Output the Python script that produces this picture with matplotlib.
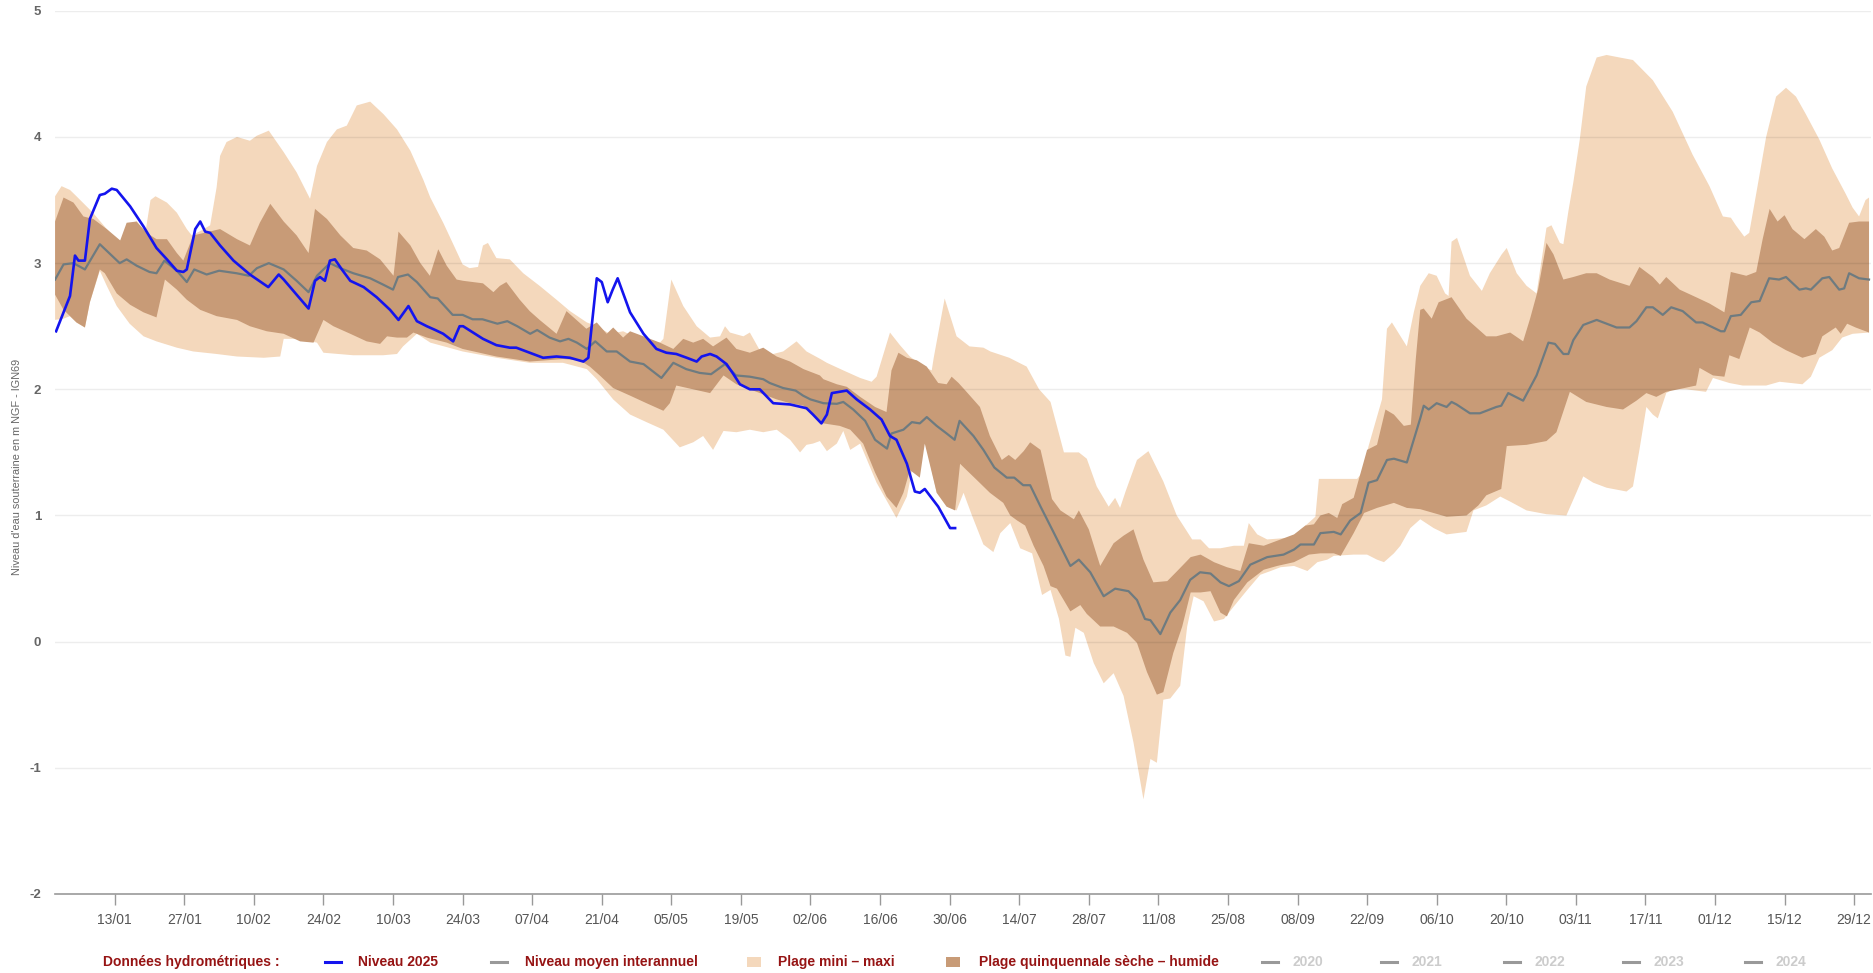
import matplotlib.pyplot as plt
from matplotlib.lines import Line2D
from matplotlib.patches import Rectangle
import numpy as np
import pandas as pd

# day of year (0 = 1 January), levels in m NGF - IGN69

# Plage mini - maxi : upper edge
max_days = [0, 1.3, 3, 4.3, 7.6, 10.4, 13, 14.5, 16.4, 18.2, 19.2, 20.2, 22.5, 24.5, 26.5, 27.5,
            29.5, 31.2, 32.5, 33.2, 34.5, 36.6, 39.2, 40.6, 43, 46, 48.6, 51.3, 52.7, 54.7, 56.7,
            58.7, 60.7, 63.4, 66.1, 68.8, 71.5, 74.1, 75.5, 78.1, 80, 82, 83.4, 85.1, 86.1, 87.1,
            88.8, 91.5, 94.2, 97.5, 100.9, 103.6, 107, 109, 111.6, 114.3, 117, 121.7, 122.4, 124,
            126.4, 129.1, 131.8, 133.8, 134.8, 135.8, 138.5, 139.8, 142.5, 146.5, 149.2, 151.2,
            154, 155.3, 158.6, 162, 164.3, 165.3, 168, 170, 172, 174.7, 176.4, 176.8, 179, 181.4,
            184, 186.8, 188.2, 192, 195.5, 198, 200.3, 203, 206, 207.6, 209.6, 212, 213.3, 214.3,
            215.4, 217.7, 220, 223, 225.7, 228.8, 230.5, 232.2, 234.5, 237.2, 239.2, 240.2, 241.9,
            243.9, 247.2, 249.3, 250.6, 251.9, 253.6, 254.3, 257.3, 262, 263, 264.3, 267, 268, 269,
            272, 273.4, 274.7, 276.4, 278, 279.7, 280.4, 281, 282.1, 284.7, 287.1, 288.7, 291.1,
            292.1, 294.1, 296.1, 298.1, 300.1, 301.1, 302.8, 303.5, 304.5, 305.5, 306.8, 308.1,
            310.2, 312.2, 314.8, 317.5, 321.5, 325.5, 329.5, 332.9, 335.6, 337.2, 338.2, 339.9,
            340.9, 342.3, 344.3, 346.3, 348.3, 350.3, 352.3, 355, 357.6, 360.3, 361.7, 363, 364.3, 365]
max_vals = [3.53, 3.61, 3.58, 3.53, 3.40, 3.27, 3.16, 3.30, 3.33, 3.25, 3.50, 3.53, 3.48, 3.40, 3.27, 3.22,
            3.26, 3.30, 3.60, 3.85, 3.96, 4.00, 3.97, 4.01, 4.05, 3.88, 3.72, 3.51, 3.77, 3.96, 4.06,
            4.09, 4.25, 4.28, 4.18, 4.06, 3.89, 3.66, 3.52, 3.32, 3.16, 2.99, 2.96, 2.97, 3.14, 3.16,
            3.04, 3.03, 2.92, 2.82, 2.71, 2.62, 2.53, 2.50, 2.44, 2.46, 2.41, 2.37, 2.40, 2.87,
            2.66, 2.50, 2.41, 2.42, 2.50, 2.45, 2.42, 2.45, 2.26, 2.30, 2.38, 2.30,
            2.24, 2.21, 2.15, 2.09, 2.06, 2.10, 2.45, 2.35, 2.26, 2.18, 2.15, 2.25, 2.72, 2.42,
            2.34, 2.33, 2.30, 2.25, 2.18, 2.00, 1.90, 1.50, 1.50, 1.45, 1.23, 1.07, 1.14, 1.06,
            1.19, 1.44, 1.51, 1.27, 1.00, 0.81, 0.81, 0.74, 0.74, 0.76, 0.76, 0.94, 0.85,
            0.81, 0.82, 0.82, 0.89, 0.93, 0.99, 1.29, 1.29, 1.29, 1.34, 1.55, 1.92, 2.48, 2.53,
            2.34, 2.61, 2.82, 2.92, 2.90, 2.76, 2.74, 3.17, 3.20, 2.90, 2.78, 2.92, 3.07,
            3.12, 2.92, 2.82, 2.76, 3.28, 3.30, 3.16, 3.15, 3.41, 3.64, 3.98, 4.40,
            4.63, 4.65, 4.63, 4.61, 4.45, 4.20, 3.86, 3.61, 3.37, 3.36, 3.30, 3.21,
            3.24, 3.55, 4.00, 4.32, 4.39, 4.32, 4.18, 3.98, 3.75, 3.55, 3.44, 3.37, 3.50, 3.52]

# Plage mini - maxi : lower edge
min_days = [0, 1.7, 3, 4.3, 6, 7, 9, 10.4, 12.4, 15, 17.8, 20.4, 24.5, 27.8, 32.5, 36.6, 42, 45.3, 46,
            48.6, 52.7, 54, 60, 63.4, 66, 68.8, 70, 72.8, 75.5, 82, 88.8, 95.5, 102.2, 107, 109, 112.3,
            115.7, 119, 122.4, 125.7, 128.4, 130.4, 132.4, 134.5, 137.1, 139.8, 142.5, 145.2, 147.9,
            149.9, 151.2, 152.5, 153.9, 155.3, 157.3, 158.6, 160, 162, 165.3, 167.3, 169.3, 171.4,
            172.7, 174.7, 175.2, 177.4, 179.4, 181.4, 182.8, 184.5, 186.8, 188.8, 190.2, 192.2, 194.2,
            196.6, 198.6, 200.3, 202, 203.3, 204.3, 205.3, 207, 209, 211, 213, 215, 217, 219, 220.4,
            221.7, 223, 224.4, 226.4, 227.8, 229.1, 231.1, 233.2, 235.2, 237.2, 239.9, 242.5, 244.6,
            246.6, 249.3, 252, 254, 256, 257.3, 261.3, 264, 266, 267.4, 269.4, 270.7, 272.7, 274.7,
            277.4, 280, 284, 285.4, 288, 290.8, 292.8, 296.1, 300.1, 304.1, 306.1, 307.5, 309.5,
            312.2, 316.2, 317.5, 318.8, 320.2, 321.5, 322.5, 324.2, 325.5, 328.2, 332.2, 333.6, 336.9,
            339.6, 344.3, 347, 351.6, 353.3, 355, 357.6, 359.6, 361.7, 365]
min_vals = [2.55, 2.56, 2.58, 2.53, 2.49, 2.69, 2.94, 2.82, 2.66, 2.52, 2.42, 2.38, 2.33, 2.30, 2.28, 2.26, 2.25, 2.26, 2.40,
            2.40, 2.37, 2.29, 2.27, 2.27, 2.27, 2.28, 2.34, 2.44, 2.37, 2.30, 2.25, 2.21, 2.21, 2.16, 2.08, 1.92,
            1.80, 1.74, 1.68, 1.54, 1.58, 1.63, 1.52, 1.67, 1.66, 1.68, 1.66, 1.68, 1.60,
            1.50, 1.56, 1.57, 1.59, 1.51, 1.57, 1.67, 1.52, 1.57, 1.26, 1.12, 0.98, 1.15,
            1.41, 1.56, 1.57, 1.18, 1.07, 1.04, 1.18, 1.00, 0.77, 0.71, 0.86, 0.94, 0.74,
            0.70, 0.37, 0.41, 0.18, -0.11, -0.12, 0.11, 0.07, -0.17, -0.33, -0.25, -0.43, -0.80, -1.25, -0.93,
            -0.96, -0.46, -0.45, -0.35, 0.12, 0.36, 0.32, 0.16, 0.18, 0.28, 0.41, 0.53, 0.56,
            0.59, 0.60, 0.56, 0.63, 0.65, 0.68, 0.69, 0.69, 0.65, 0.63, 0.70, 0.76, 0.90, 0.97,
            0.90, 0.85, 0.87, 1.04, 1.08, 1.15, 1.11, 1.04, 1.01, 1.00, 1.18, 1.31, 1.26,
            1.22, 1.19, 1.23, 1.52, 1.86, 1.80, 1.77, 1.97, 2.00, 2.00, 1.98, 2.09, 2.05,
            2.03, 2.03, 2.06, 2.04, 2.10, 2.25, 2.31, 2.41, 2.44, 2.45]

# Plage quinquennale seche - humide : upper edge (humide)
qhi_days = [0, 1.7, 3.7, 5.7, 7.7, 10.4, 13.1, 14.4, 16.4, 18.4, 20.4, 22.5, 24.5, 25.8, 27.8, 30, 33.2,
            36.6, 39.2, 41.2, 43.3, 46, 48.6, 51, 52.3, 54.7, 57.4, 60, 62.7, 65.4, 68.1, 69.1, 71.5,
            73.5, 75.4, 77.1, 78.8, 80.8, 82.1, 84.1, 86.1, 88.2, 89.5, 90.8, 93.5, 95.5, 97.5, 100.9,
            102.9, 104.9, 106.9, 109, 111, 112.3, 114.3, 115.7, 118.4, 121.7, 124.4, 126.4, 128.4,
            130.4, 132.4, 135.1, 137.1, 139.8, 142.5, 145.2, 147.9, 150.6, 153.9, 154.6, 157.3, 159.3,
            162, 165, 167.3, 168.3, 169.7, 171.4, 173.4, 175.4, 177.7, 179.4, 180.4, 181.8, 183.4,
            186.1, 188.1, 190.5, 191.9, 193.2, 194.9, 196.2, 198.3, 200.6, 202.3, 205, 206, 208, 210.3,
            213, 215, 217, 219, 221, 223.8, 225.8, 228.5, 230.5, 233.2, 235.8, 238.5, 240.2, 243.2,
            246.6, 249.3, 251.6, 253.3, 254.6, 256.3, 258, 259, 261.3, 264, 266, 267.7, 269.4, 271.4,
            272.8, 273.8, 274.7, 275.4, 277, 278.4, 281, 284, 288, 290, 292.8, 295.4, 296.8, 298.4,
            300.1, 301.5, 303.5, 305.5, 308.1, 310.2, 312.8, 316.8, 318.8, 321.5, 322.9, 324.2, 326.9,
            330.2, 332.9, 335.9, 337.2, 340.3, 342.3, 343.6, 345, 346.6, 348, 349.6, 352, 354.3, 356,
            357.6, 359, 361, 363, 365]
qhi_vals = [3.33, 3.52, 3.48, 3.37, 3.35, 3.27, 3.18, 3.32, 3.33, 3.24, 3.19, 3.19, 3.08, 3.02, 3.22, 3.24, 3.27,
            3.19, 3.14, 3.32, 3.47, 3.33, 3.22, 3.08, 3.43, 3.35, 3.22, 3.12, 3.10, 3.03, 2.90, 3.25, 3.14,
            3.00, 2.90, 3.11, 2.98, 2.87, 2.86, 2.85, 2.84, 2.77, 2.82, 2.85, 2.71, 2.62, 2.55, 2.44,
            2.62, 2.55, 2.48, 2.53, 2.44, 2.49, 2.41, 2.46, 2.42, 2.37, 2.32, 2.40, 2.37,
            2.40, 2.34, 2.41, 2.32, 2.29, 2.33, 2.26, 2.22, 2.16, 2.11, 2.08, 2.04, 2.02,
            1.94, 1.86, 1.82, 2.15, 2.29, 2.25, 2.23, 2.18, 2.05, 2.04, 2.10, 2.05, 1.98,
            1.86, 1.63, 1.44, 1.48, 1.44, 1.51, 1.58, 1.52, 1.13, 1.04, 0.97, 1.04, 0.89, 0.60,
            0.78, 0.84, 0.89, 0.65, 0.47, 0.48, 0.56, 0.67, 0.69, 0.63, 0.59, 0.56, 0.78, 0.76,
            0.81, 0.85, 0.92, 0.93, 1.00, 1.02, 0.98, 1.09, 1.14, 1.52, 1.56, 1.84, 1.80, 1.71,
            1.72, 2.24, 2.63, 2.64, 2.56, 2.69, 2.73, 2.56, 2.42, 2.42, 2.45, 2.38, 2.56, 2.79,
            3.16, 3.07, 2.87, 2.89, 2.92, 2.92, 2.87, 2.82, 2.97, 2.89, 2.83, 2.89, 2.79,
            2.73, 2.68, 2.61, 2.93, 2.90, 2.93, 3.19, 3.43, 3.33, 3.38, 3.27, 3.19, 3.27, 3.21,
            3.10, 3.12, 3.32, 3.33, 3.33]

# Plage quinquennale seche - humide : lower edge (seche)
qlo_days = [0, 1.7, 3, 4.3, 6, 7, 9, 10, 12.4, 15.1, 17.8, 20.4, 22.1, 24.5, 26.5, 29.2, 32.5, 36.6, 39.2,
            42.6, 46, 49.3, 52, 54, 56, 59.4, 62.7, 65.4, 66.8, 68.8, 70.8, 72.1, 74.8, 78.8, 82, 85.4,
            88.8, 92.2, 95.5, 98.9, 102.2, 105.6, 107.6, 109.6, 112.3, 115.7, 119, 122.4, 123.7, 125,
            128.4, 131.8, 134.5, 137.1, 139.8, 142.5, 145.2, 147.9, 150.6, 152.5, 154.6, 157.9, 160,
            162.6, 165, 167.3, 169.3, 170.7, 172, 174, 175, 177.4, 179.4, 181.1, 182.1, 183.4, 185.5,
            188.1, 190.8, 192.2, 193.6, 195.2, 196.9, 198.9, 200.3, 201.6, 204.3, 206.3, 207.6, 210.3,
            213, 215.7, 217.7, 219.7, 221.7, 223, 225, 226.8, 228.5, 230.5, 232.5, 234.5, 235.8, 237.2,
            239.9, 243.2, 245.9, 249.3, 252.3, 254.6, 257.3, 258.7, 261.3, 263.4, 266, 269.4, 272,
            274.7, 280, 284, 286.4, 288, 291, 292.1, 296.1, 300.1, 302.1, 304.8, 308.1, 312.2, 315.5,
            318.2, 320.2, 322.2, 324.2, 330.2, 330.9, 333.6, 335.9, 336.9, 338.9, 341, 343, 345.6,
            348.3, 351.6, 354.3, 355.6, 358.3, 359.3, 360.6, 362.3, 365]
qlo_vals = [2.75, 2.63, 2.58, 2.53, 2.49, 2.69, 2.95, 2.92, 2.76, 2.67, 2.61, 2.57, 2.87, 2.79, 2.71, 2.63, 2.58, 2.55, 2.50,
            2.46, 2.44, 2.38, 2.37, 2.55, 2.50, 2.44, 2.38, 2.36, 2.42, 2.41, 2.41, 2.45, 2.41, 2.37, 2.32, 2.29,
            2.26, 2.24, 2.22, 2.23, 2.24, 2.23, 2.18, 2.11, 2.01, 1.95, 1.89, 1.83, 1.89, 2.03,
            2.00, 1.97, 2.11, 2.04, 2.00, 1.96, 1.92, 1.89, 1.87, 1.80, 1.73, 1.71, 1.68,
            1.57, 1.34, 1.15, 1.06, 1.18, 1.36, 1.30, 1.57, 1.18, 1.07, 1.04, 1.41, 1.36, 1.28,
            1.18, 1.10, 1.00, 0.96, 0.92, 0.76, 0.60, 0.44, 0.42, 0.24, 0.29, 0.22, 0.12,
            0.12, 0.07, -0.01, -0.24, -0.42, -0.40, -0.09, 0.12, 0.39, 0.39, 0.40, 0.23, 0.20, 0.33,
            0.47, 0.57, 0.60, 0.63, 0.69, 0.70, 0.70, 0.68, 0.86, 1.02, 1.06, 1.10, 1.06,
            1.05, 0.99, 1.00, 1.08, 1.16, 1.21, 1.55, 1.56, 1.59, 1.66, 1.98, 1.90, 1.86, 1.84,
            1.91, 1.97, 1.94, 1.98, 2.03, 2.17, 2.11, 2.10, 2.27, 2.24, 2.49, 2.45, 2.37,
            2.31, 2.25, 2.28, 2.42, 2.49, 2.44, 2.52, 2.49, 2.45]

# Niveau moyen interannuel
mean_days = [0, 1.7, 3.7, 6, 9, 13, 14.4, 16.4, 19, 20.4, 22, 24.5, 26.5, 28, 30.5, 33, 36.5, 39, 40.6, 43,
             46, 48.6, 51, 52.7, 55.3, 57.4, 60, 63.4, 66, 68, 69, 71, 72.8, 75.5, 77, 80, 82, 84, 86, 89,
             91, 93, 95.6, 97, 99.5, 101.6, 103.3, 105, 107, 108.7, 111, 113, 115.7, 118.4, 122, 124.4,
             127, 129.7, 132, 134.8, 137, 139.8, 142.5, 143.8, 146.5, 149, 150.5, 152, 154.6, 157.3,
             158.6, 160.6, 163, 165, 167.4, 168.3, 170.7, 172.4, 174, 175.4, 177.4, 179.4, 181, 182,
             184.8, 186.8, 189, 191.5, 193, 194.8, 196.2, 198.3, 201, 204.3, 206, 208.3, 211, 213.3,
             216, 217.7, 219.3, 220.4, 222.4, 224.4, 226.4, 228.4, 230.4, 232.5, 234.5, 236.2, 238.2,
             240.5, 243.9, 247.2, 249.3, 250.6, 253.3, 254.6, 257.3, 258.7, 260.6, 262.7, 264.3, 266,
             268, 269.4, 272, 273.4, 274.7, 275.4, 276.4, 278, 280, 281, 282, 284.7, 286.7, 290, 291,
             292.4, 295.4, 298.1, 300.5, 301.8, 303.5, 304.5, 305.5, 307.5, 310.2, 314.2, 316.8, 318.2,
             320.2, 321.5, 323.5, 325.2, 327.5, 330.2, 331.5, 333.6, 335.2, 335.9, 337.2, 339.2, 341.3,
             343, 344.9, 346.9, 348.3, 351, 352.3, 353.3, 355.6, 357, 359, 360, 361, 363, 365]
mean_vals = [2.87, 2.99, 3.00, 2.95, 3.15, 3.00, 3.03, 2.98, 2.93, 2.92, 3.02, 2.94, 2.85, 2.95, 2.91, 2.94, 2.92, 2.90, 2.96, 3.00,
             2.95, 2.86, 2.77, 2.90, 3.00, 2.96, 2.92, 2.88, 2.83, 2.79, 2.89, 2.91, 2.85, 2.73, 2.72, 2.59, 2.59, 2.555, 2.555, 2.52,
             2.54, 2.50, 2.44, 2.47, 2.41, 2.38, 2.40, 2.37, 2.32, 2.38, 2.30, 2.30, 2.22, 2.20, 2.09, 2.21,
             2.16, 2.13, 2.12, 2.20, 2.11, 2.10, 2.08, 2.05, 2.01, 1.99, 1.95, 1.92, 1.89, 1.885,
             1.90, 1.84, 1.75, 1.60, 1.53, 1.65, 1.68, 1.74, 1.73, 1.78, 1.71, 1.65, 1.60, 1.75,
             1.63, 1.52, 1.38, 1.30, 1.30, 1.24, 1.24, 1.07, 0.86, 0.60, 0.65, 0.55, 0.36, 0.42,
             0.40, 0.33, 0.18, 0.17, 0.06, 0.23, 0.33, 0.49, 0.55, 0.54, 0.47, 0.44, 0.48,
             0.61, 0.67, 0.69, 0.73, 0.77, 0.77, 0.86, 0.87, 0.85, 0.96, 1.02, 1.26, 1.28,
             1.44, 1.45, 1.42, 1.60, 1.77, 1.87, 1.84, 1.89, 1.86, 1.90, 1.88, 1.81, 1.81, 1.86, 1.87,
             1.97, 1.91, 2.11, 2.37, 2.36, 2.28, 2.28, 2.39, 2.51, 2.55, 2.49, 2.49, 2.54,
             2.65, 2.65, 2.59, 2.65, 2.62, 2.53, 2.53, 2.49, 2.46, 2.46, 2.58, 2.59, 2.69,
             2.70, 2.88, 2.87, 2.89, 2.79, 2.80, 2.79, 2.88, 2.89, 2.79, 2.80, 2.92, 2.88, 2.87]

# Niveau 2025
n2025_days = [0.2, 1.7, 3, 4, 4.7, 6, 7, 9, 10, 11.4, 12.4, 15.1, 17.8, 20.4, 22.5, 24.5, 25.8, 26.5, 28.2,
              29.2, 30.2, 31.2, 33.2, 35.9, 39.2, 42.9, 45, 46, 48.6, 51, 52.3, 53.3, 54.3, 55.3, 56.3,
              57.7, 59.4, 62.1, 64.7, 67.4, 69.1, 71.1, 72.8, 74.8, 76.5, 78.1, 80.1, 81.4, 82.1, 84.1,
              86.1, 88.8, 91.5, 92.8, 95.5, 98.2, 100.9, 103.6, 106.3, 107.3, 109, 110, 111.2, 112.2,
              113.2, 115.7, 118.4, 121, 123, 125, 127.1, 129.1, 130.1, 131.8, 133.1, 135.1, 136.5, 137.8,
              139.8, 141.8, 144.5, 147.9, 151.2, 152.5, 154.2, 155.3, 156.3, 159.3, 161.3, 164, 166.3,
              168, 169.3, 171.4, 173, 174, 175, 177.7, 180.1, 181.1]
n2025_vals = [2.46, 2.61, 2.74, 3.06, 3.02, 3.02, 3.35, 3.54, 3.55, 3.59, 3.58, 3.45, 3.29, 3.12, 3.03, 2.94, 2.93, 2.95, 3.27,
              3.33, 3.25, 3.24, 3.14, 3.02, 2.91, 2.81, 2.91, 2.87, 2.75, 2.64, 2.86, 2.89, 2.86, 3.02, 3.03,
              2.95, 2.86, 2.81, 2.73, 2.63, 2.55, 2.66, 2.54, 2.50, 2.47, 2.44, 2.38, 2.50, 2.50, 2.45,
              2.40, 2.35, 2.33, 2.33, 2.29, 2.25, 2.26, 2.25, 2.22, 2.25, 2.88, 2.85, 2.69, 2.79,
              2.88, 2.61, 2.44, 2.32, 2.29, 2.28, 2.25, 2.22, 2.26, 2.28, 2.26, 2.20, 2.12, 2.04,
              2.00, 2.00, 1.89, 1.88, 1.85, 1.80, 1.73, 1.80, 1.97, 1.99, 1.92, 1.84, 1.76,
              1.63, 1.60, 1.41, 1.19, 1.18, 1.21, 1.07, 0.90, 0.90]

tick_labels = ['13/01', '27/01', '10/02', '24/02', '10/03', '24/03', '07/04', '21/04', '05/05',
               '19/05', '02/06', '16/06', '30/06', '14/07', '28/07', '11/08', '25/08', '08/09',
               '22/09', '06/10', '20/10', '03/11', '17/11', '01/12', '15/12', '29/12']
y_ticks = [-2, -1, 0, 1, 2, 3, 4, 5]
years = ['2020', '2021', '2022', '2023', '2024']

font = ['Liberation Sans', 'DejaVu Sans']
light_col = '#F4D8BC'
dark_col = '#C89B77'
mean_col = '#6E7B80'
blue_col = '#1414EE'
red_col = '#961414'

fig = plt.figure(figsize=(18.74, 9.73), dpi=100)
ax = fig.add_axes([0.0294, 0.0812, 0.9690, 0.9077])

ax.fill(np.r_[max_days, min_days[::-1]], np.r_[max_vals, min_vals[::-1]],
        color=light_col, lw=0, zorder=1)
ax.fill(np.r_[qhi_days, qlo_days[::-1]], np.r_[qhi_vals, qlo_vals[::-1]],
        color=dark_col, lw=0, zorder=2)
for v in y_ticks[1:]:
    ax.axhline(v, color='black', alpha=0.07, lw=1, zorder=3)
ax.plot(mean_days, mean_vals, color=mean_col, lw=1.6, zorder=4)
ax.plot(n2025_days, n2025_vals, color=blue_col, lw=1.9, zorder=5)

ax.set_xlim(0, 365.4)
ax.set_ylim(-2, 5)

tick_pos = [pd.to_datetime(t + '/2025', format='%d/%m/%Y').dayofyear - 1 for t in tick_labels]
ax.set_xticks(tick_pos)
ax.set_xticklabels(tick_labels, family=font, fontsize=10, color='#555555')
ax.tick_params(axis='x', length=8, width=1, color='#999999', pad=6)
ax.set_yticks(y_ticks)
ax.set_yticklabels([str(v) for v in y_ticks], family=font, fontsize=9.5,
                   fontweight='bold', color='#666666')
ax.tick_params(axis='y', length=0, pad=10)

for s in ['top', 'right', 'left']:
    ax.spines[s].set_visible(False)
ax.spines['bottom'].set_color('#999999')
ax.spines['bottom'].set_linewidth(1.2)

fig.text(0.009, 0.52, "Niveau d'eau souterraine en m NGF - IGN69", rotation=90,
         ha='center', va='center', family=font, fontsize=7.8, color='#666666')

# legend row (drawn by hand, in figure pixels)
W, H = 1874.0, 973.0
ly = 1 - 962 / H


def leg_line(x0, color):
    fig.add_artist(Line2D([x0 / W, (x0 + 16) / W], [ly, ly], color=color, lw=2.2,
                          transform=fig.transFigure))


def leg_box(x0, color):
    fig.add_artist(Rectangle((x0 / W, ly - 5 / H), 14 / W, 10 / H, color=color,
                             lw=0, transform=fig.transFigure))


def leg_text(x0, s, color=red_col):
    fig.text(x0 / W, ly, s, ha='left', va='center', family=font, fontsize=10,
             fontweight='bold', color=color)


leg_text(103, 'Données hydrométriques :')
leg_line(325, blue_col)
leg_text(358, 'Niveau 2025')
leg_line(491, '#999999')
leg_text(525, 'Niveau moyen interannuel')
leg_box(747, light_col)
leg_text(778, 'Plage mini – maxi')
leg_box(946, dark_col)
leg_text(979, 'Plage quinquennale sèche – humide')
for xm, yr in zip([1262, 1381, 1504, 1623, 1745], years):
    leg_line(xm, '#999999')
    leg_text(xm + 31, yr, color='#CCCCCC')

fig.savefig('out.png', dpi=100)
